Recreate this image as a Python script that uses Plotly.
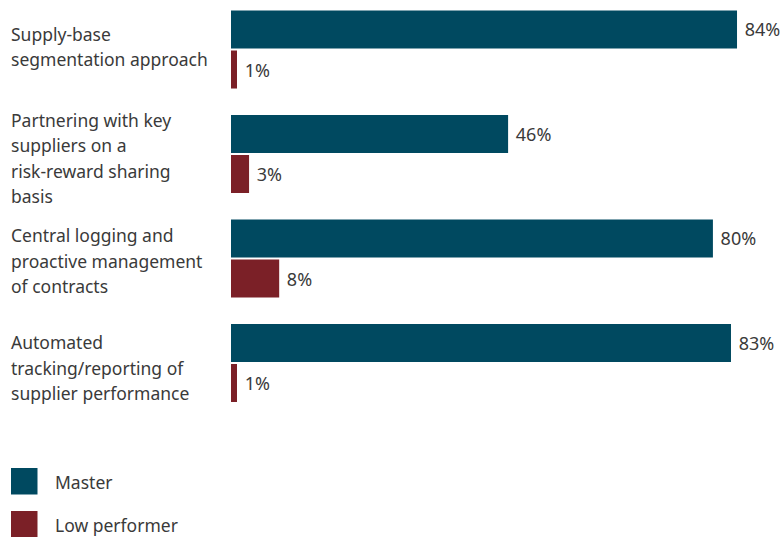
import plotly.graph_objects as go

# Survey categories and shares by performer group
categories = [
    ["Supply-base", "segmentation approach"],
    ["Partnering with key", "suppliers on a", "risk-reward sharing", "basis"],
    ["Central logging and", "proactive management", "of contracts"],
    ["Automated", "tracking/reporting of", "supplier performance"],
]
series_names = ["Master", "Low performer"]
master_values = [84, 46, 80, 83]
low_values = [1, 3, 8, 1]

colors = ["#004960", "#7b2027"]
text_color = "#3a3a3a"
font_family = "Noto Sans"
label_size = 17.5
value_size = 18

W, H = 783, 537
plot_left, plot_right = 231, 783
plot_top, plot_bottom = 0, 420
px_per_unit = 6.024
pitch = 104.5          # pixels between category centres
first_center = 49.5    # pixel centre of the first category
line_gap = 25.3        # pixels between label lines
label_nudge = [-3, 4, 2, 4.5]  # vertical fine-tuning of each label block (px, downwards)


def px_x(p):
    return (p - plot_left) / (plot_right - plot_left)


def px_y(p):
    return (plot_bottom - p) / (plot_bottom - plot_top)


ids = list(range(len(categories)))

fig = go.Figure()
for name, vals, col in zip(series_names, [master_values, low_values], colors):
    fig.add_trace(go.Bar(
        y=ids, x=vals, name=name, orientation="h",
        marker=dict(color=col, line=dict(width=0)),
        text=[f"\u00a0{v}%" for v in vals], textposition="outside",
        textfont=dict(size=value_size, color=text_color, family=font_family),
        cliponaxis=False, showlegend=False,
    ))

# category labels, left aligned, one annotation per line
for i, lines in enumerate(categories):
    n = len(lines)
    for k, line in enumerate(lines):
        offset = (k - (n - 1) / 2) * line_gap + label_nudge[i]
        fig.add_annotation(
            x=px_x(9), xref="paper", y=i, yref="y", text=line, showarrow=False,
            xanchor="left", yanchor="middle", align="left", yshift=-offset,
            font=dict(size=label_size, color=text_color, family=font_family),
        )

# legend swatches
legend_tops = [468, 511]
for name, col, top in zip(series_names, colors, legend_tops):
    fig.add_shape(type="rect", xref="paper", yref="paper",
                  x0=px_x(11), x1=px_x(37.5), y0=px_y(top), y1=px_y(top + 26.5),
                  fillcolor=col, line=dict(width=0))
    fig.add_annotation(
        x=px_x(53), xref="paper", y=px_y(top + 14), yref="paper", text=name,
        showarrow=False, xanchor="left", yanchor="middle",
        font=dict(size=label_size, color=text_color, family=font_family),
    )

fig.update_layout(
    width=W, height=H,
    margin=dict(l=plot_left, r=W - plot_right, t=plot_top, b=H - plot_bottom),
    paper_bgcolor="white", plot_bgcolor="white",
    barmode="group", bargap=0.234, bargroupgap=0.05,
    xaxis=dict(range=[0, (plot_right - plot_left) / px_per_unit], visible=False, fixedrange=True),
    yaxis=dict(
        range=[(plot_bottom - first_center) / pitch, (plot_top - first_center) / pitch],
        visible=False, fixedrange=True,
    ),
    font=dict(family=font_family, color=text_color),
)

fig.write_html("out.html")
